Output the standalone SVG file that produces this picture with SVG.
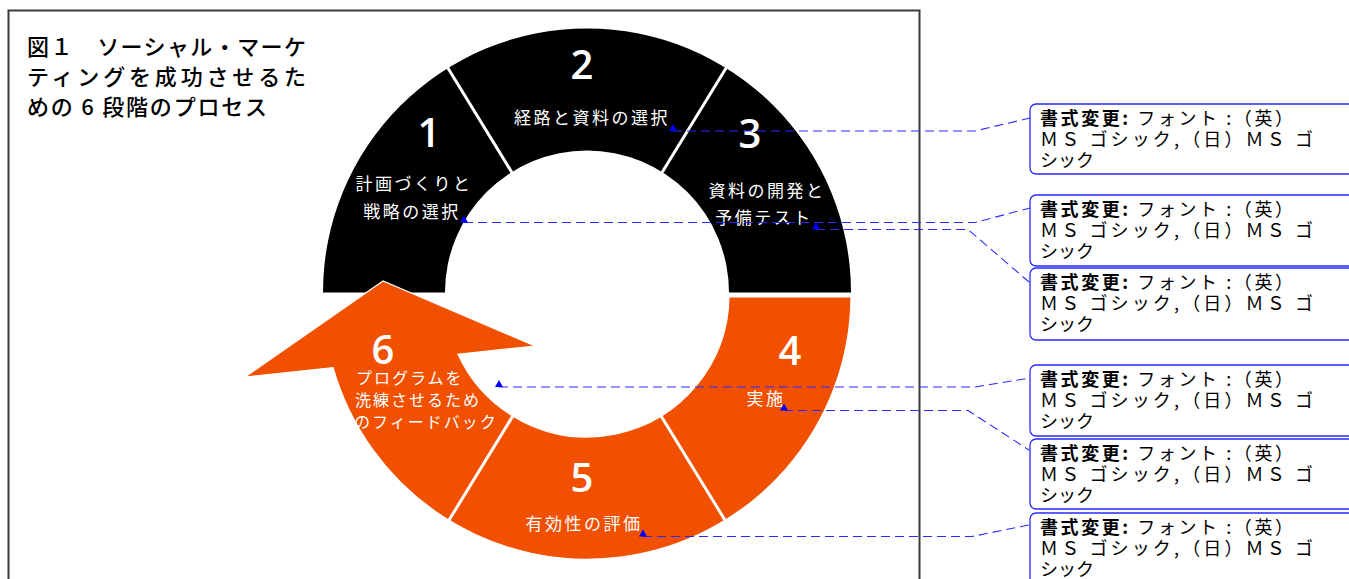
<svg xmlns="http://www.w3.org/2000/svg" width="1349" height="579" viewBox="0 0 1349 579">
<style>
.frame{fill:none;stroke:#3a3a3a;stroke-width:2}
.title{font-family:"Noto Sans CJK JP","Noto Sans",sans-serif;font-size:22px;fill:#000;font-weight:500}
.num{font-family:"Open Sans","Noto Sans",sans-serif;font-size:40px;font-weight:600;fill:#fff;text-anchor:middle}
.lbl{font-family:"Noto Sans CJK JP","Noto Sans",sans-serif;font-size:17px;fill:#fff;text-anchor:middle;letter-spacing:2.5px}
.lbl6{font-family:"Noto Sans CJK JP","Noto Sans",sans-serif;font-size:16px;fill:#fff;letter-spacing:2px}
.div{stroke:#fff;stroke-width:3}
.conn{fill:none;stroke:#2a2aff;stroke-width:1.1;stroke-dasharray:9 5}
.box{fill:#fff;stroke:#2a2aff;stroke-width:1.3}
.bt{font-family:"Noto Sans CJK JP","Noto Sans",sans-serif;font-size:18px;fill:#000}
.bold{font-weight:700}
</style>
<defs>
<marker id="anc" viewBox="0 0 8 7" refX="4" refY="7" markerWidth="8" markerHeight="7" markerUnits="userSpaceOnUse" orient="0">
<path d="M0,7 L4,0 L8,7 Z" fill="#0000ff"/>
</marker>
</defs>
<rect width="1349" height="579" fill="#fff"/>
<rect class="frame" x="8.5" y="10.5" width="911" height="600"/>
<g id="title">
<text class="title" x="27" y="55" textLength="279" lengthAdjust="spacing">図１　ソーシャル・マーケ</text>
<text class="title" x="27" y="85" textLength="279" lengthAdjust="spacing">ティングを成功させるた</text>
<text class="title" x="27" y="115" textLength="240" lengthAdjust="spacing">めの 6 段階のプロセス</text>
</g>
<g id="ring">
<path d="M323,292.5 A264,264 0 0 1 851,292.5 L729,292.5 A142,142 0 0 0 445,292.5 Z" fill="#000"/>
<path d="M851,297 A264,264 0 0 1 333.1,367.6 L245,377 L383,281 L535,346 L458,354.3 A142,142 0 0 0 729,297 Z" fill="#f05000" stroke="#fff" stroke-width="1.2"/>
<line class="div" x1="514.9" y1="177.3" x2="445.9" y2="64.8"/>
<line class="div" x1="659.1" y1="177.3" x2="728.1" y2="64.8"/>
<line class="div" x1="659.1" y1="412.7" x2="728.1" y2="525.2"/>
<line class="div" x1="514.9" y1="412.7" x2="445.9" y2="525.2"/>
</g>
<g id="step1">
<text class="num" x="429" y="147">1</text>
<text class="lbl" x="414" y="190">計画づくりと</text>
<text class="lbl" x="412" y="218">戦略の選択</text>
</g>
<g id="step2">
<text class="num" x="582" y="79">2</text>
<text class="lbl" x="592" y="124">経路と資料の選択</text>
</g>
<g id="step3">
<text class="num" x="750" y="148">3</text>
<text class="lbl" x="767" y="197">資料の開発と</text>
<text class="lbl" x="764" y="224">予備テスト</text>
</g>
<g id="step4">
<text class="num" x="790" y="365">4</text>
<text class="lbl" x="766" y="405">実施</text>
</g>
<g id="step5">
<text class="num" x="582" y="492">5</text>
<text class="lbl" x="584" y="530">有効性の評価</text>
</g>
<g id="step6">
<text class="num" x="383" y="364">6</text>
<text class="lbl6" x="356" y="384">プログラムを</text>
<text class="lbl6" x="355" y="406">洗練させるため</text>
<text class="lbl6" x="354" y="428">のフィードバック</text>
</g>
<g id="connectors">
<polyline class="conn" marker-start="url(#anc)" points="673,131 975,131 1030,118"/>
<polyline class="conn" marker-start="url(#anc)" points="464,222.5 975,222.5 1030,208"/>
<polyline class="conn" marker-start="url(#anc)" points="816,229.5 968,229.5 1029,282"/>
<polyline class="conn" marker-start="url(#anc)" points="499,387 975,387 1030,378"/>
<polyline class="conn" marker-start="url(#anc)" points="784,410.5 968,410.5 1029,450"/>
<polyline class="conn" marker-start="url(#anc)" points="643,536.5 972,536.5 1029,525"/>
</g>
<g id="comment1">
<rect class="box" x="1030" y="104" width="340" height="70" rx="6"/>
<text class="bt" x="1040" y="125" textLength="253" lengthAdjust="spacing"><tspan class="bold">書式変更:</tspan> フォント :（英）</text>
<text class="bt" x="1040" y="146" textLength="273" lengthAdjust="spacing">ＭＳ ゴシック,（日）ＭＳ ゴ</text>
<text class="bt" x="1040" y="167">シック</text>
</g>
<g id="comment2">
<rect class="box" x="1030" y="195" width="340" height="71" rx="6"/>
<text class="bt" x="1040" y="216" textLength="253" lengthAdjust="spacing"><tspan class="bold">書式変更:</tspan> フォント :（英）</text>
<text class="bt" x="1040" y="237" textLength="273" lengthAdjust="spacing">ＭＳ ゴシック,（日）ＭＳ ゴ</text>
<text class="bt" x="1040" y="258">シック</text>
</g>
<g id="comment3">
<rect class="box" x="1030" y="268" width="340" height="72" rx="6"/>
<text class="bt" x="1040" y="289" textLength="253" lengthAdjust="spacing"><tspan class="bold">書式変更:</tspan> フォント :（英）</text>
<text class="bt" x="1040" y="310" textLength="273" lengthAdjust="spacing">ＭＳ ゴシック,（日）ＭＳ ゴ</text>
<text class="bt" x="1040" y="331">シック</text>
</g>
<g id="comment4">
<rect class="box" x="1030" y="365" width="340" height="71" rx="6"/>
<text class="bt" x="1040" y="386" textLength="253" lengthAdjust="spacing"><tspan class="bold">書式変更:</tspan> フォント :（英）</text>
<text class="bt" x="1040" y="407" textLength="273" lengthAdjust="spacing">ＭＳ ゴシック,（日）ＭＳ ゴ</text>
<text class="bt" x="1040" y="428">シック</text>
</g>
<g id="comment5">
<rect class="box" x="1030" y="439" width="340" height="70" rx="6"/>
<text class="bt" x="1040" y="460" textLength="253" lengthAdjust="spacing"><tspan class="bold">書式変更:</tspan> フォント :（英）</text>
<text class="bt" x="1040" y="481" textLength="273" lengthAdjust="spacing">ＭＳ ゴシック,（日）ＭＳ ゴ</text>
<text class="bt" x="1040" y="502">シック</text>
</g>
<g id="comment6">
<rect class="box" x="1030" y="513" width="340" height="80" rx="6"/>
<text class="bt" x="1040" y="534" textLength="253" lengthAdjust="spacing"><tspan class="bold">書式変更:</tspan> フォント :（英）</text>
<text class="bt" x="1040" y="555" textLength="273" lengthAdjust="spacing">ＭＳ ゴシック,（日）ＭＳ ゴ</text>
<text class="bt" x="1040" y="576">シック</text>
</g>
</svg>
